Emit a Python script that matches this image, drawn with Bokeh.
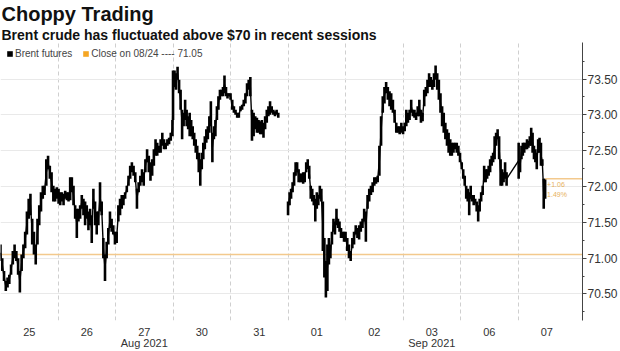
import numpy as np
from bokeh.plotting import figure
from bokeh.models import (Range1d, LinearAxis, FixedTicker, Span, Title, Legend,
                          LegendItem, PrintfTickFormatter)
from bokeh.embed import file_html
from bokeh.resources import INLINE
from bokeh.core.properties import value

title_text = "Choppy Trading"
subtitle_text = "Brent crude has fluctuated above $70 in recent sessions"
series_name = "Brent futures"
ref_date = "08/24"
prior_close = 71.05
last_close = 72.11

day_labels = ["25", "26", "27", "30", "31", "01", "02", "03", "06", "07"]
month_labels = {"Aug 2021": "27", "Sep 2021": "03"}
gap_before = ["01"]          # no trading line drawn into this session

# session windows (fraction of each day's slot that carries trades)
sess_start = [0.00, 0.01, 0.02, 0.00, 0.03, 0.00, 0.03, 0.00, 0.02, 0.01]
sess_end = [0.98, 0.99, 0.99, 1.00, 0.83, 1.00, 0.97, 0.99, 0.80, 0.47]

hi_25 = [71.19, 71.00, 70.82, 70.68, 70.73, 70.77, 70.91, 71.10, 71.19, 71.10, 71.00, 70.82, 71.05, 71.19, 71.37, 71.65, 71.83, 71.90, 71.55, 71.37, 71.19, 71.55, 71.74, 71.92, 72.01, 72.01, 72.38, 72.43, 72.29, 72.20, 72.01, 71.97, 71.99]
lo_25 = [70.96, 70.82, 70.68, 70.54, 70.59, 70.64, 70.77, 70.91, 71.00, 70.96, 70.77, 70.52, 70.82, 71.00, 71.14, 71.33, 71.55, 71.60, 71.19, 71.05, 70.91, 71.19, 71.46, 71.65, 71.83, 71.88, 72.01, 72.24, 72.11, 71.92, 71.79, 71.79, 71.83]

hi_26 = [71.97, 71.92, 71.92, 71.90, 71.94, 71.92, 71.92, 72.13, 72.13, 72.01, 71.74, 71.69, 71.69, 71.74, 71.88, 71.83, 71.79, 71.74, 71.65, 71.69, 71.60, 71.97, 71.79, 71.65, 71.65, 72.06, 71.79, 71.28, 71.05, 71.23, 71.42, 71.65, 71.55, 71.46, 71.37]
lo_26 = [71.76, 71.74, 71.79, 71.74, 71.83, 71.81, 71.79, 71.81, 71.92, 71.74, 71.55, 71.28, 71.51, 71.55, 71.69, 71.60, 71.46, 71.55, 71.39, 71.46, 71.21, 71.69, 71.46, 71.33, 71.46, 71.65, 71.60, 71.00, 70.68, 71.00, 71.19, 71.42, 71.37, 71.33, 71.19]

hi_27 = [71.37, 71.74, 71.83, 71.88, 71.88, 71.92, 72.01, 72.15, 72.29, 72.34, 72.29, 72.20, 71.97, 72.06, 72.15, 72.24, 72.20, 72.38, 72.52, 72.43, 72.34, 72.38, 72.52, 72.66, 72.61, 72.57, 72.66, 72.75, 72.66, 72.61, 72.66, 72.68, 72.75, 72.93]
lo_27 = [71.21, 71.51, 71.60, 71.69, 71.74, 71.83, 71.92, 72.01, 72.11, 72.20, 72.15, 72.06, 71.69, 71.92, 72.01, 72.06, 72.01, 72.20, 72.34, 72.20, 72.08, 72.15, 72.29, 72.43, 72.43, 72.47, 72.47, 72.57, 72.52, 72.52, 72.57, 72.59, 72.64, 72.70]

hi_30 = [73.62, 73.62, 73.58, 73.67, 73.49, 73.35, 73.07, 73.03, 73.21, 73.07, 72.98, 73.03, 72.93, 72.84, 72.75, 72.66, 72.57, 72.47, 72.38, 72.47, 72.61, 72.70, 72.80, 72.84, 72.98, 73.19, 72.75, 72.84, 72.93, 73.12, 73.26, 73.35, 73.35, 73.39, 73.55, 73.39, 73.30, 73.30, 73.30]
lo_30 = [72.93, 73.39, 73.35, 73.49, 73.30, 73.07, 72.66, 72.84, 72.93, 72.84, 72.80, 72.70, 72.70, 72.66, 72.57, 72.47, 72.38, 72.20, 72.01, 72.24, 72.38, 72.52, 72.61, 72.66, 72.75, 72.84, 72.34, 72.66, 72.70, 72.93, 73.07, 73.21, 73.26, 73.26, 73.30, 73.26, 73.23, 73.26, 73.21]

hi_31 = [73.21, 73.12, 73.07, 73.03, 73.03, 73.12, 73.14, 73.21, 73.30, 73.44, 73.49, 73.53, 73.07, 73.03, 72.98, 72.96, 72.93, 72.91, 72.93, 72.89, 72.98, 73.07, 73.12, 73.19, 73.12, 73.07, 73.05, 73.07, 73.03]
lo_31 = [73.07, 73.03, 73.00, 72.96, 72.96, 73.05, 73.07, 73.12, 73.16, 73.26, 73.35, 73.26, 72.64, 72.70, 72.80, 72.75, 72.75, 72.73, 72.73, 72.68, 72.80, 72.89, 72.98, 73.00, 73.03, 73.00, 72.98, 73.00, 72.96]

hi_01 = [71.79, 71.92, 71.97, 72.06, 72.20, 72.34, 72.34, 72.24, 72.18, 72.18, 72.20, 72.20, 72.34, 72.38, 72.29, 72.01, 71.97, 71.88, 71.83, 71.92, 71.88, 72.01, 71.97, 71.79, 71.28, 70.96, 71.19, 71.28, 71.19, 71.37, 71.55, 71.51, 71.69, 71.55, 71.51, 71.42, 71.37, 71.37, 71.37]
lo_01 = [71.60, 71.74, 71.83, 71.92, 72.01, 72.15, 72.20, 72.06, 72.06, 72.06, 72.04, 72.06, 72.20, 72.24, 72.11, 71.83, 71.79, 71.74, 71.51, 71.69, 71.74, 71.83, 71.79, 71.10, 70.73, 70.45, 70.54, 70.91, 71.00, 71.19, 71.37, 71.33, 71.46, 71.42, 71.37, 71.28, 71.28, 71.23, 71.23]

hi_02 = [71.28, 71.19, 71.10, 71.28, 71.37, 71.46, 71.42, 71.46, 71.51, 71.55, 71.69, 71.65, 71.88, 71.97, 72.01, 72.06, 72.13, 72.13, 72.15, 72.57, 72.98, 73.26, 73.39, 73.46, 73.39, 73.33, 73.30, 73.21, 73.07, 72.89, 72.84, 72.84, 72.89]
lo_02 = [71.10, 71.00, 70.96, 71.14, 71.19, 71.33, 71.28, 71.26, 71.37, 71.42, 71.51, 71.23, 71.69, 71.79, 71.88, 71.92, 72.01, 72.04, 72.06, 72.15, 72.57, 73.03, 73.16, 73.30, 73.21, 73.12, 73.07, 73.03, 72.89, 72.75, 72.75, 72.73, 72.75]

hi_03 = [72.84, 72.89, 73.07, 73.03, 73.07, 73.21, 73.07, 73.07, 73.03, 73.12, 73.21, 73.07, 73.03, 73.35, 73.39, 73.49, 73.58, 73.53, 73.49, 73.58, 73.69, 73.58, 73.49, 73.30, 73.12, 73.03, 72.89, 72.80, 72.75, 72.66, 72.61, 72.61, 72.61, 72.61, 72.57, 72.47]
lo_03 = [72.73, 72.77, 72.84, 72.89, 72.93, 73.03, 72.98, 72.96, 72.93, 72.98, 72.98, 72.89, 72.91, 73.12, 73.26, 73.30, 73.39, 73.39, 73.35, 73.39, 73.49, 73.35, 73.21, 73.03, 72.84, 72.75, 72.66, 72.57, 72.47, 72.43, 72.43, 72.47, 72.52, 72.47, 72.43, 72.34]

hi_06 = [72.34, 72.24, 72.15, 72.01, 71.97, 71.92, 72.01, 71.88, 71.88, 71.83, 71.79, 71.74, 71.83, 71.92, 72.01, 72.29, 72.24, 72.24, 72.29, 72.38, 72.43, 72.47, 72.70, 72.75, 72.80, 72.70, 72.38, 72.24, 72.20, 72.34, 72.20]
lo_06 = [72.24, 72.11, 72.01, 71.83, 71.79, 71.60, 71.83, 71.79, 71.74, 71.79, 71.65, 71.51, 71.65, 71.79, 71.88, 72.06, 72.06, 72.11, 72.15, 72.20, 72.29, 72.34, 72.38, 72.57, 72.66, 72.38, 72.01, 72.01, 72.06, 72.11, 72.01]

hi_07 = [72.61, 72.38, 72.57, 72.61, 72.61, 72.61, 72.66, 72.64, 72.70, 72.82, 72.75, 72.57, 72.52, 72.47, 72.66, 72.68, 72.61, 72.38, 72.11, 72.11]
lo_07 = [72.11, 72.20, 72.38, 72.43, 72.47, 72.52, 72.52, 72.54, 72.57, 72.57, 72.47, 72.38, 72.34, 72.24, 72.47, 72.47, 72.29, 72.29, 71.69, 71.83]

highs = [hi_25, hi_26, hi_27, hi_30, hi_31, hi_01, hi_02, hi_03, hi_06, hi_07]
lows = [lo_25, lo_26, lo_27, lo_30, lo_31, lo_01, lo_02, lo_03, lo_06, lo_07]

# ---- build bar positions: day k slot spans [k-0.5, k+0.5]
bx, bh, bl = [], [], []
lx, ly = [], []
for k, lab in enumerate(day_labels):
    h = np.array(highs[k]); l = np.array(lows[k])
    pos = (k - 0.5) + np.linspace(sess_start[k], sess_end[k], len(h))
    if lab in gap_before:
        lx.append(np.nan); ly.append(np.nan)
    bx.extend(pos); bh.extend(h); bl.extend(l)
    lx.extend(pos); ly.extend((h + l) / 2)

x_lo, x_hi = -0.5, 9.62
p = figure(width=620, height=351, x_range=Range1d(x_lo, x_hi), y_range=Range1d(70.13, 74.01),
           y_axis_location="right", output_backend="svg", toolbar_location=None,
           min_border_left=0, min_border_right=0, min_border_top=0, min_border_bottom=0,
           outline_line_color=None, background_fill_color="white", border_fill_color="white")

FONT = "Liberation Sans"

# titles: main on top, subtitle below it
p.title.text = title_text
p.title.text_font = FONT
p.title.text_font_size = "20px"
p.title.text_font_style = "bold"
p.title.text_color = "#111111"
p.title.standoff = 0
p.title.offset = 1
p.add_layout(Title(text=subtitle_text, text_font=FONT, text_font_size="14px", text_font_style="bold",
                   text_color="#111111", standoff=0, offset=1), "above")

# grids
p.ygrid.grid_line_color = "#e9e9e9"
p.ygrid.grid_line_width = 1
p.xgrid.ticker = FixedTicker(ticks=[k + 0.5 for k in range(len(day_labels) - 1)])
p.xgrid.grid_line_color = "#cfcfcf"
p.xgrid.grid_line_dash = "4 3"
p.xgrid.grid_line_width = 1

# y axis (right)
ya = p.yaxis[0]
ya.ticker = FixedTicker(ticks=[70.5, 71.0, 71.5, 72.0, 72.5, 73.0, 73.5],
                        minor_ticks=[70.25, 70.75, 71.25, 71.75, 72.25, 72.75, 73.25, 73.75])
ya.formatter = PrintfTickFormatter(format="%.2f")
ya.axis_line_color = "#444444"
ya.major_tick_line_color = "#444444"
ya.minor_tick_line_color = "#444444"
ya.major_tick_out = 4
ya.major_tick_in = 0
ya.minor_tick_out = 2
ya.minor_tick_in = 0
ya.major_label_standoff = 1
ya.axis_label_standoff = 0
ya.major_label_text_font = FONT
ya.major_label_text_font_size = "12px"
ya.major_label_text_color = "#333333"

# x axis: day labels
xa = p.xaxis[0]
xa.ticker = FixedTicker(ticks=list(range(len(day_labels))))
xa.major_label_overrides = {k: lab for k, lab in enumerate(day_labels)}
xa.axis_line_color = None
xa.major_tick_line_color = None
xa.minor_tick_line_color = None
xa.major_tick_out = 0
xa.major_tick_in = 0
xa.minor_tick_out = 0
xa.minor_tick_in = 0
xa.axis_label_standoff = 0
xa.major_label_standoff = 7
xa.major_label_text_font = FONT
xa.major_label_text_font_size = "11px"
xa.major_label_text_color = "#333333"

# month axis
m_ticks = [day_labels.index(d) for d in month_labels.values()]
ma = LinearAxis(ticker=FixedTicker(ticks=m_ticks),
                major_label_overrides={t: m for t, m in zip(m_ticks, month_labels.keys())})
ma.axis_line_color = None
ma.major_tick_line_color = None
ma.minor_tick_line_color = None
ma.major_tick_out = 0
ma.major_tick_in = 0
ma.minor_tick_out = 0
ma.minor_tick_in = 0
ma.axis_label_standoff = 0
ma.major_label_standoff = -2
ma.major_label_text_font = FONT
ma.major_label_text_font_size = "11px"
ma.major_label_text_color = "#333333"
p.add_layout(ma, "below")

# reference close line
ORANGE_LINE = "#f3c98d"
p.add_layout(Span(location=prior_close, dimension="width", line_color=ORANGE_LINE,
                  line_width=1.5, level="underlay"))

# price bars
p.line(lx, ly, line_color="black", line_width=1.4)
p.segment(x0=bx, x1=bx, y0=bl, y1=bh, line_color="black", line_width=2.6)

# last price marker
last_x = bx[-1]
p.segment(x0=[last_x], x1=[x_hi], y0=[last_close], y1=[last_close], line_color=ORANGE_LINE, line_width=1.5)
chg = last_close - prior_close
pct = chg / prior_close * 100
p.text(x=[last_x, last_x], y=[last_close, last_close], text=[f"+{chg:.2f}", f"{pct:.2f}%"],
       x_offset=2, y_offset=[3, 12], text_baseline="top", text_align="left",
       text_font=value(FONT), text_font_size="7px", text_color="#e7b15c")

# legend (swatches only; NaN geometry keeps them off the plot)
r1 = p.quad(left=[np.nan], right=[np.nan], top=[np.nan], bottom=[np.nan], fill_color="black", line_color=None)
r2 = p.quad(left=[np.nan], right=[np.nan], top=[np.nan], bottom=[np.nan], fill_color="#f5a623", line_color=None)
legend = Legend(items=[LegendItem(label=series_name, renderers=[r1]),
                       LegendItem(label=f"Close on {ref_date} ---- {prior_close:.2f}", renderers=[r2])],
                orientation="horizontal", location="top_left", margin=6, padding=0,
                spacing=10, label_standoff=2, glyph_width=7, glyph_height=7,
                label_text_font=FONT, label_text_font_size="10px", label_text_color="#444444",
                label_height=10, background_fill_alpha=0, border_line_color=None)
p.add_layout(legend)

open("out.html", "w").write(file_html(p, INLINE))
